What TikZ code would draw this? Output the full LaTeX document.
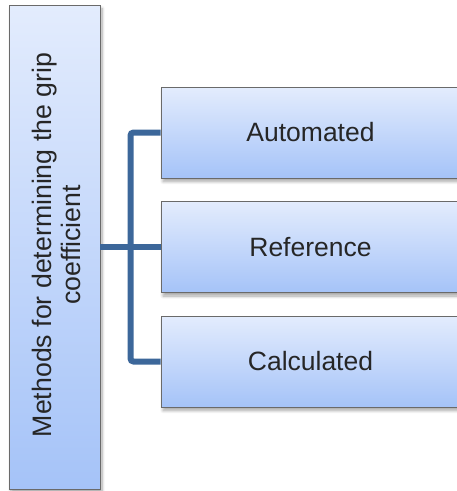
\documentclass[tikz,border=0pt]{standalone}
\usepackage{fontspec}
\setmainfont{Liberation Sans}
\usetikzlibrary{shadows.blur}
\definecolor{boxtop}{HTML}{E3ECFD}
\definecolor{boxbot}{HTML}{A5C3F8}
\definecolor{boxline}{HTML}{6A6A6A}
\definecolor{conn}{HTML}{3C679A}
\definecolor{txt}{HTML}{262626}
\tikzset{
  gbox/.style={rectangle, draw=boxline, line width=0.9pt, top color=boxtop, bottom color=boxbot,
    inner sep=0pt, text=txt, font=\fontsize{26.5}{30}\selectfont,
    blur shadow={shadow xshift=2pt, shadow yshift=-3.5pt, shadow blur steps=8, shadow blur radius=3pt, shadow opacity=35}},
  connline/.style={draw=conn, line width=6pt, rounded corners=3pt}
}
\begin{document}
\begin{tikzpicture}[x=1pt,y=-1pt]
\useasboundingbox (0,0) rectangle (457,491);
\clip (0,0) rectangle (457,491);
\node[gbox, minimum width=91pt, minimum height=484pt] (root) at (54.5,247) {};
\node[rotate=90, align=center, text=txt, font=\fontsize{26.7}{29}\selectfont, inner sep=0pt] (roottext) at (56,245) {Methods for determining the grip\\coefficient};
\node[gbox, minimum width=299pt, minimum height=91pt] (auto) at (310.5,132.5) {Automated};
\node[gbox, minimum width=299pt, minimum height=91pt] (ref) at (310.5,247) {Reference};
\node[gbox, minimum width=299pt, minimum height=91pt] (calc) at (310.5,361.5) {Calculated};
\coordinate (bend) at (130.5,0);
\draw[connline] (auto.west) -- (auto.west -| bend) |- (calc.west);
\draw[connline] (root.east) -- (ref.west);
\end{tikzpicture}
\end{document}
